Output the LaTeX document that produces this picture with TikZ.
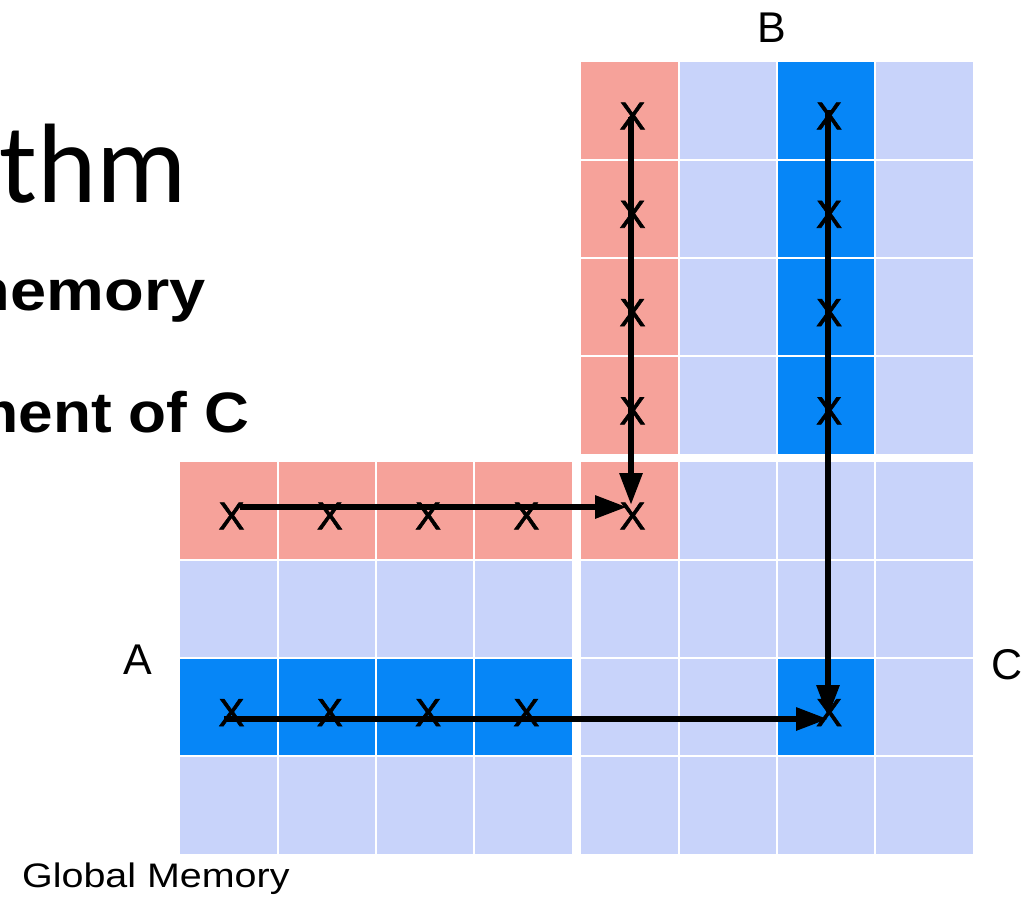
\documentclass[tikz,border=0pt]{standalone}
\usepackage{fontspec}
\setmainfont{Liberation Sans}
\newfontfamily\calib{Carlito}
\newfontfamily\xfont[FakeBold=1.5]{Liberation Sans}
\usetikzlibrary{arrows.meta}
\definecolor{pinkc}{HTML}{F6A29A}
\definecolor{lightc}{HTML}{C8D3FA}
\definecolor{brightc}{HTML}{0686F7}
\begin{document}
\begin{tikzpicture}[x=1pt,y=-1pt,
  cell/.style={rectangle, inner sep=0pt, minimum width=96.6pt, minimum height=96.6pt, anchor=north west},
  xmark/.style={inner sep=0pt, font=\xfont\fontsize{39}{39}\selectfont},
  arr/.style={line width=6pt, -{Triangle[length=32pt,width=22pt]}},
  lab/.style={inner sep=0pt, font=\fontsize{43}{43}\selectfont},
  big/.style={inner sep=0pt, anchor=base east, font=\bfseries\fontsize{57}{57}\selectfont}]
\useasboundingbox (0,0) rectangle (1028,899);
\clip (0,0) rectangle (1028,899);

% title fragments
\node[inner sep=0pt, anchor=base east, font=\calib\fontsize{113}{113}\selectfont] (title) at (187,202) {thm};
\node[big] (line1) at (206,310) {\scalebox{1.14}[1]{memory}};
\node[big] (line2) at (250,432) {\scalebox{1.09}[1]{ment of C}};

% matrix A
\foreach \r in {0,...,3}{\foreach \c in {0,...,3}{
  \def\fc{lightc}
  \ifnum\r=0 \def\fc{pinkc}\fi
  \ifnum\r=2 \def\fc{brightc}\fi
  \node[cell, fill=\fc] (a-\r-\c) at ({180+\c*98.3},{462+\r*98.3}) {};
}}
% matrix B
\foreach \r in {0,...,3}{\foreach \c in {0,...,3}{
  \def\fc{lightc}
  \ifnum\c=0 \def\fc{pinkc}\fi
  \ifnum\c=2 \def\fc{brightc}\fi
  \node[cell, fill=\fc] (b-\r-\c) at ({581+\c*98.3},{62+\r*98.3}) {};
}}
% matrix C
\foreach \r in {0,...,3}{\foreach \c in {0,...,3}{
  \def\fc{lightc}
  \ifnum\r=0 \ifnum\c=0 \def\fc{pinkc}\fi\fi
  \ifnum\r=2 \ifnum\c=2 \def\fc{brightc}\fi\fi
  \node[cell, fill=\fc] (c-\r-\c) at ({581+\c*98.3},{462+\r*98.3}) {};
}}

% X marks
\foreach \c in {0,...,3}{
  \node[xmark] (xa0\c) at ([xshift=3pt,yshift=-5.5pt]a-0-\c.center) {X};
  \node[xmark] (xa2\c) at ([xshift=3pt,yshift=-5.5pt]a-2-\c.center) {X};
}
\foreach \r in {0,...,3}{
  \node[xmark] (xb\r0) at ([xshift=3pt,yshift=-5.5pt]b-\r-0.center) {X};
  \node[xmark] (xb\r2) at ([xshift=3pt,yshift=-5.5pt]b-\r-2.center) {X};
}
\node[xmark] (xc00) at ([xshift=3pt,yshift=-5.5pt]c-0-0.center) {X};
\node[xmark] (xc22) at ([xshift=3pt,yshift=-5.5pt]c-2-2.center) {X};

% arrows
\coordinate (h1s) at (240,507);
\coordinate (h1e) at (627,507);
\coordinate (v1s) at (631,117);
\coordinate (v1e) at (631,505);
\coordinate (h2s) at (224,719);
\coordinate (h2e) at (828,719);
\coordinate (v2s) at (828,110);
\coordinate (v2e) at (828,717);
\draw[arr] (h1s) -- (h1e);
\draw[arr] (v1s) -- (v1e);
\draw[arr] (h2s) -- (h2e);
\draw[arr] (v2s) -- (v2e);

% labels
\node[lab] (labA) at (137.5,660) {A};
\node[lab] (labB) at (771.5,28) {B};
\node[lab] (labC) at (1007.5,665) {C};
\node[inner sep=0pt, anchor=base west, font=\fontsize{34}{34}\selectfont] (gm) at (22,887) {\scalebox{1.16}[1]{Global Memory}};
\end{tikzpicture}
\end{document}
